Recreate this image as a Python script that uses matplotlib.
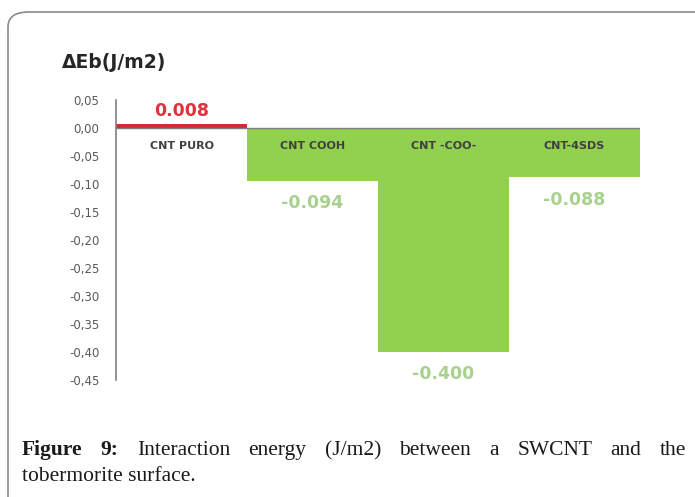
import matplotlib.pyplot as plt
from matplotlib.patches import FancyBboxPatch

# ---------------------------------------------------

categories = ['CNT PURO', 'CNT COOH', 'CNT -COO-', 'CNT-4SDS']
energies = [0.008, -0.094, -0.400, -0.088]
value_labels = ['0.008', '-0.094', '-0.400', '-0.088']
yticks = [0.05, 0.00, -0.05, -0.10, -0.15, -0.20, -0.25, -0.30, -0.35, -0.40, -0.45]

bar_green = '#92d050'
label_green = '#a9d18e'
red = '#d42a33'

W, H = 695, 497

# ---------------------------------------------------

fig = plt.figure(figsize=(W / 100, H / 100), dpi=100)

# rounded frame around the figure box
frame = FancyBboxPatch((8 / W, 1 - 520 / H), 720 / W, 508 / H,
                       boxstyle='round,pad=0,rounding_size=0.03',
                       transform=fig.transFigure, fill=False,
                       edgecolor='#8a8a8a', linewidth=1.2, clip_on=False)
fig.patches.append(frame)

ax = fig.add_axes([116 / W, 1 - 380 / H, (640 - 116) / W, 280 / H])

x = range(len(categories))
colors = [red if v > 0 else bar_green for v in energies]
ax.bar(x, energies, width=1.0, color=colors, zorder=2)
ax.axhline(0, color='#7f7f7f', linewidth=1.0, zorder=3)

ax.set_xlim(-0.5, len(categories) - 0.5)
ax.set_ylim(-0.45, 0.05)
ax.set_yticks(yticks)
ax.set_yticklabels([f'{t:.2f}'.replace('.', ',') for t in yticks],
                   fontsize=8.5, color='#595959')
ax.tick_params(axis='y', length=0, pad=12)
ax.set_xticks([])

for s in ['top', 'right', 'bottom']:
    ax.spines[s].set_visible(False)
ax.spines['left'].set_color('#7f7f7f')
ax.spines['left'].set_linewidth(1.2)

# category names just under the zero line
for i, name in enumerate(categories):
    ax.text(i, -0.033, name, ha='center', va='center', fontsize=8,
            fontweight='bold', color='#404040', zorder=4)

# value labels
for i, (v, lab) in enumerate(zip(energies, value_labels)):
    if v > 0:
        ax.text(i, v + 0.022, lab, ha='center', va='center', fontsize=12.5,
                fontweight='bold', color='#e0323c')
    else:
        ax.text(i, v - 0.04, lab, ha='center', va='center', fontsize=12.5,
                fontweight='bold', color=label_green)

fig.text(62 / W, 1 - 63 / H, 'ΔEb(J/m2)', fontsize=13.5, fontweight='bold',
         color='#262626', va='center', ha='left')

# caption, first line justified between the margins
cap_font = 'Liberation Serif'
cap_size = 15.5
left, right = 22, 686
words = [('Figure', 'bold'), ('9:', 'bold'), ('Interaction', 'normal'),
         ('energy', 'normal'), ('(J/m2)', 'normal'), ('between', 'normal'),
         ('a', 'normal'), ('SWCNT', 'normal'), ('and', 'normal'), ('the', 'normal')]
renderer = fig.canvas.get_renderer()
items = []
for w, wt in words:
    t = fig.text(0, 1 - 455 / H, w, fontsize=cap_size, fontweight=wt,
                 family=cap_font, va='baseline', ha='left', color='#1a1a1a')
    items.append((t, t.get_window_extent(renderer).width))
gap = (right - left - sum(wd for _, wd in items)) / (len(items) - 1)
pos = left
for t, wd in items:
    t.set_x(pos / W)
    pos += wd + gap
fig.text(left / W, 1 - 481 / H, 'tobermorite surface.', fontsize=cap_size,
         family=cap_font, va='baseline', ha='left', color='#1a1a1a')

fig.savefig('out.png', dpi=100)
